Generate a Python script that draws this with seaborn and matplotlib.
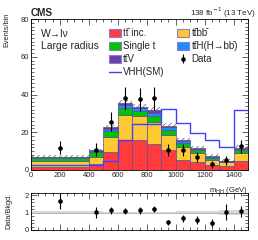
import numpy as np
import pandas as pd
import matplotlib
matplotlib.use("Agg")
import matplotlib.pyplot as plt
from matplotlib.patches import Patch
from matplotlib.lines import Line2D
from matplotlib.ticker import MultipleLocator
import seaborn as sns

# ---- data ----
edges = [0, 400, 500, 600, 700, 800, 900, 1000, 1100, 1200, 1300, 1400, 1500]
centers = [200, 450, 550, 650, 750, 850, 950, 1050, 1150, 1250, 1350, 1450]

tt_inc   = [1.5, 3.0, 9.5, 15.7, 15.9, 13.9, 10.5, 5.4, 4.4, 2.5, 2.1, 4.8]
ttbb     = [3.5, 4.1, 8.1, 13.6, 12.9, 11.6, 8.1, 7.0, 4.4, 2.8, 1.9, 4.4]
single_t = [1.3, 2.2, 3.2, 3.7, 2.6, 2.9, 2.8, 2.1, 1.8, 1.3, 0.5, 1.6]
ttH      = [0.5, 0.6, 0.8, 1.3, 1.2, 2.0, 1.2, 0.7, 0.6, 0.5, 0.3, 0.5]
ttV      = [0.3, 0.7, 1.2, 1.2, 1.0, 1.3, 0.9, 0.6, 0.5, 0.5, 0.2, 0.5]
rel_unc  = [0.11, 0.07, 0.05, 0.045, 0.045, 0.045, 0.05, 0.06, 0.07, 0.09, 0.15, 0.12]

vhh      = [2.4, 2.6, 5.0, 15.8, 24.2, 24.2, 32.3, 25.1, 19.8, 15.9, 12.4, 31.8]

data     = [11.8, 10.8, 25.5, 38.0, 37.6, 38.0, 10.6, 10.6, 6.7, 3.0, 5.2, 12.5]
data_err = [3.4, 3.3, 5.0, 6.2, 6.1, 6.2, 3.3, 3.3, 2.6, 1.7, 2.3, 3.5]

proc_names  = ["tt̄ inc.", "tt̄bb̄", "Single t", "tt̄H(H→bb̄)", "tt̄V"]
proc_values = [tt_inc, ttbb, single_t, ttH, ttV]
proc_colors = ["#ff3b3b", "#ffc933", "#00c400", "#1a8cff", "#6a3db0"]

# ---- style ----
sns.set_style("ticks")
plt.rcParams["font.family"] = ["Liberation Sans", "DejaVu Sans"]
plt.rcParams["hatch.color"] = "#5a5a5a"
plt.rcParams["hatch.linewidth"] = 0.5

W, H = 258, 240
fig = plt.figure(figsize=(W / 100, H / 100), dpi=100)
ax = fig.add_axes([31 / W, 1 - 170 / H, 217 / W, 151 / H])
rax = fig.add_axes([31 / W, 1 - 230 / H, 217 / W, 36.7 / H])

rows = []
for name, vals in zip(proc_names, proc_values):
    for c, v in zip(centers, vals):
        rows.append({"x": c, "w": v, "proc": name})
df = pd.DataFrame(rows)

# seaborn stacks the last hue level at the bottom
hue_order = proc_names[::-1]
palette = dict(zip(proc_names, proc_colors))
sns.histplot(df, x="x", weights="w", hue="proc", hue_order=hue_order,
             bins=edges, multiple="stack", element="bars", palette=palette,
             alpha=1, edgecolor="#5b4c9e", linewidth=0.5, legend=False, ax=ax)

total = np.sum(np.array(proc_values), axis=0)
unc = total * np.array(rel_unc)
ax.stairs(total + unc, edges, baseline=total - unc, fill=True,
          facecolor="none", edgecolor="#5a5a5a", linewidth=0, hatch="//////")

sns.histplot(x=centers, weights=vhh, bins=edges, element="step", fill=False,
             color="#4040ff", linewidth=1.0, ax=ax)

data_handle = ax.errorbar(centers, data, yerr=data_err, fmt="o", ms=2.3,
                          color="k", elinewidth=0.8, capsize=0)

ax.set_xlim(0, 1500)
ax.set_ylim(0, 80)
ax.set_xlabel("")
ax.set_ylabel("")
ax.xaxis.set_major_locator(MultipleLocator(200))
ax.xaxis.set_minor_locator(MultipleLocator(50))
ax.yaxis.set_major_locator(MultipleLocator(20))
ax.yaxis.set_minor_locator(MultipleLocator(2))
for a in (ax, rax):
    a.tick_params(which="both", direction="in", top=True, right=True,
                  labelsize=5.5, pad=1.5, width=0.5)
    a.tick_params(which="major", length=4)
    a.tick_params(which="minor", length=2)
    for s in a.spines.values():
        s.set_linewidth(0.6)
        s.set_color("black")

ax.text(1.0, -0.1, "m$_{\\mathrm{HH}}$ (GeV)", transform=ax.transAxes,
        ha="right", va="top", fontsize=5.5)
fig.text(7 / W, 1 - 13 / H, "Events/bin", rotation=90, ha="center", va="top",
         fontsize=5.3)

ax.text(0.045, 0.9, "W→lν", transform=ax.transAxes, fontsize=7.5, va="center")
ax.text(0.045, 0.82, "Large radius", transform=ax.transAxes, fontsize=7.5,
        va="center")
fig.text(31 / W, 1 - 13 / H, "CMS", fontweight="bold", fontsize=7.2,
         ha="left", va="center")
fig.text(256 / W, 1 - 13 / H, "138 fb$^{-1}$ (13 TeV)", fontsize=5.8,
         ha="right", va="center")

handles = [Patch(facecolor=proc_colors[0], edgecolor="#8a7fc0", lw=0.8),
           Patch(facecolor=proc_colors[2], edgecolor="#8a7fc0", lw=0.8),
           Patch(facecolor=proc_colors[4], edgecolor="#8a7fc0", lw=0.8),
           Line2D([], [], color="#4040ff", lw=1.0),
           Patch(facecolor=proc_colors[1], edgecolor="#8a7fc0", lw=0.8),
           Patch(facecolor=proc_colors[3], edgecolor="#8a7fc0", lw=0.8),
           data_handle]
labels = ["tt̄ inc.", "Single t", "tt̄V", "VHH(SM)", "tt̄bb̄", "tt̄H(H→bb̄)", "Data"]
ax.legend(handles, labels, ncol=2, loc="upper left",
          bbox_to_anchor=(0.36, 0.94), frameon=False, fontsize=7,
          handlelength=1.2, handleheight=0.95, handletextpad=0.25,
          labelspacing=0.32, columnspacing=1.3, borderpad=0, borderaxespad=0)

# ---- ratio panel ----
ratio = np.array(data) / total
ratio_err = np.array(data_err) / total
rax.stairs(1 + np.array(rel_unc), edges, baseline=1 - np.array(rel_unc),
           fill=True, color="#d3d3d3", alpha=0.9, linewidth=0)
rax.axhline(1, color="#b0b0b0", lw=0.6)
rax.errorbar(centers, ratio, yerr=ratio_err, fmt="o", ms=2.3, color="k",
             elinewidth=0.8, capsize=0)
rax.set_xlim(0, 1500)
rax.set_ylim(0, 2.1)
rax.xaxis.set_major_locator(MultipleLocator(200))
rax.xaxis.set_minor_locator(MultipleLocator(50))
rax.yaxis.set_major_locator(MultipleLocator(1))
rax.yaxis.set_minor_locator(MultipleLocator(0.2))
rax.set_xticklabels([])
rax.set_yticks([0, 1, 2])
rax.set_yticklabels(["0", "1", "2"])
fig.text(9 / W, 1 - 211 / H, "Data/Bkgd.", rotation=90, ha="center",
         va="center", fontsize=5.3)

fig.savefig("out.png", dpi=100)
